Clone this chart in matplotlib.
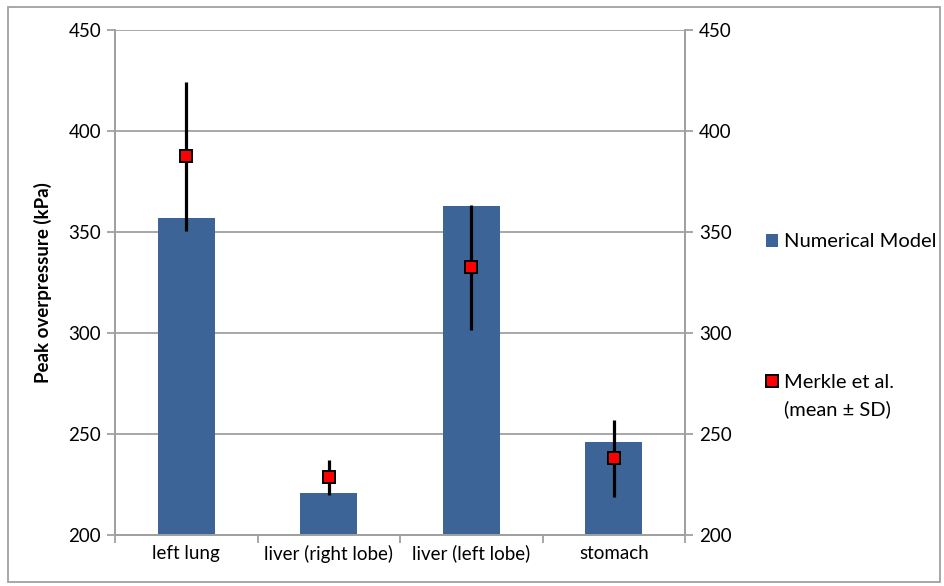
import matplotlib
matplotlib.use("Agg")
import numpy as np
import matplotlib.pyplot as plt
from matplotlib.patches import Rectangle, Patch
from matplotlib.lines import Line2D

# ── data ──────────────────────────────────────────────────────────────────────
organs      = ["left lung", "liver (right lobe)", "liver (left lobe)", "stomach"]
model_kpa   = [357, 221, 363, 246]
merkle_mean = [387.5, 228.5, 332.5, 238]
merkle_sd   = [37, 8.5, 31, 19]
yticks      = [200, 250, 300, 350, 400, 450]

plt.rcParams['font.family'] = ['Lato', 'DejaVu Sans']

BLUE = '#3d6497'
GRID = '#a0a0a0'
FS = 13.5
LFS = 14.5

fig = plt.figure(figsize=(9.45, 5.86), dpi=100)
ax = fig.add_axes([0.1217, 0.087, 0.6032, 0.8618])

x = np.arange(len(organs))
ax.bar(x, model_kpa, width=0.4, color=BLUE, zorder=2)
ax.errorbar(x, merkle_mean, yerr=merkle_sd, fmt='s', color='black', ecolor='black',
            elinewidth=2.3, capsize=0, markersize=9, markerfacecolor='#ff0000',
            markeredgecolor='black', markeredgewidth=1.4, zorder=3)

ax.set_ylim(200, 450)
ax.set_xlim(-0.5, len(organs) - 0.5)
ax.set_yticks(yticks)
ax.yaxis.grid(True, color=GRID, linewidth=1.3, zorder=0)
ax.set_axisbelow(True)

ax.set_xticks(x)
ax.set_xticklabels(organs, fontsize=FS)
ax.tick_params(axis='x', length=0, pad=7)
ax.set_xticks(np.arange(len(organs) + 1) - 0.5, minor=True)
ax.tick_params(axis='x', which='minor', length=6, color=GRID, width=1.3)

ax.tick_params(axis='y', labelsize=FS, length=6, color=GRID, width=1.3, pad=4)
ax.set_ylabel("Peak overpressure (kPa)", fontsize=FS, fontweight='bold', labelpad=12)
for s in ax.spines.values():
    s.set_color(GRID)
    s.set_linewidth(1.3)
ax.spines['top'].set_visible(False)

ax2 = ax.twinx()
ax2.set_ylim(200, 450)
ax2.set_yticks(yticks)
ax2.tick_params(axis='y', labelsize=FS, length=6, color=GRID, width=1.3, pad=4)
for s in ax2.spines.values():
    s.set_color(GRID)
    s.set_linewidth(1.3)
ax2.spines['top'].set_visible(False)

# legend
h1 = [Patch(facecolor=BLUE, edgecolor='none')]
fig.legend(h1, ["Numerical Model"], loc='center left',
           bbox_to_anchor=(766 / 945, 1 - 242 / 586), frameon=False,
           borderpad=0, borderaxespad=0,
           fontsize=LFS, handlelength=0.6, handleheight=0.6, handletextpad=0.3)
h2 = [Line2D([], [], linestyle='none', marker='s', markersize=9,
             markerfacecolor='#ff0000', markeredgecolor='black', markeredgewidth=1.4),
      Line2D([], [], linestyle='none')]
fig.legend(h2, ["Merkle et al.", "(mean ± SD)"], loc='center left',
           bbox_to_anchor=(766 / 945, 1 - 396 / 586), frameon=False,
           borderpad=0, borderaxespad=0,
           fontsize=LFS, handlelength=0.6, handletextpad=0.3, labelspacing=0.45)

# outer chart border
fig.patches.append(Rectangle((8 / 945, 4 / 586), 932 / 945, 575 / 586,
                             transform=fig.transFigure, fill=False,
                             edgecolor=GRID, linewidth=1.3))

fig.savefig("out.png", dpi=100)
